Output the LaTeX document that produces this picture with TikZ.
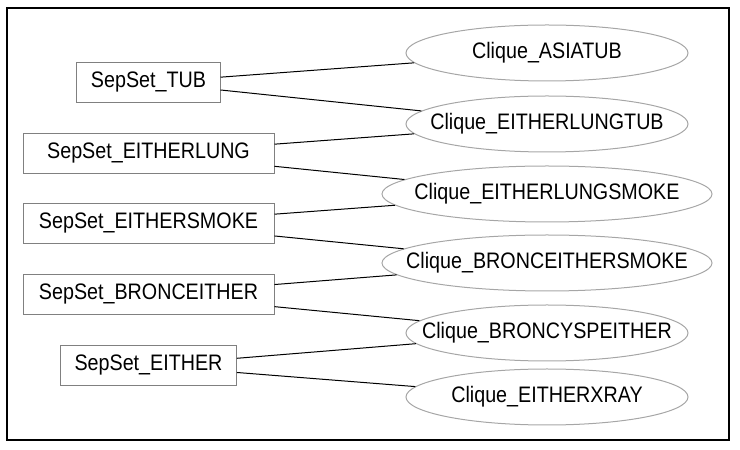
\documentclass[tikz,border=0pt]{standalone}
\usepackage{fontspec}
\setmainfont{Liberation Sans}[FakeStretch=0.88]
\usepackage{tikz}
\usetikzlibrary{arrows}
\usetikzlibrary{shapes.geometric}

\begin{document}
\begin{tikzpicture}[-,x=0.5pt,y=0.5pt,
			sep node/.style={rectangle,draw=black!50,line width=0.5pt,
				font=\fontsize{11.2}{13}\selectfont,inner xsep=7pt,minimum height=20pt},
			wide sep/.style={sep node,minimum width=125.5pt},
			clique node/.style={ellipse,draw=black!35,line width=0.5pt,
				font=\fontsize{11.2}{13}\selectfont,inner xsep=-25pt,inner ysep=0pt,
				minimum width=141pt,minimum height=28pt},
			wide clique/.style={clique node,minimum width=165pt}]
			
			\useasboundingbox (0,0) rectangle (740,450);
			\draw[line width=0.75pt] (7,10) rectangle (729,442);
			
			\node[sep node] (S1) at (148.5,367.5) {SepSet\_TUB};
			\node[wide sep,node distance=35.5pt] (S2) [below of=S1] {SepSet\_EITHERLUNG};
			\node[wide sep,node distance=35pt] (S3) [below of=S2] {SepSet\_EITHERSMOKE};
			\node[wide sep,node distance=35.5pt] (S4) [below of=S3] {SepSet\_BRONCEITHER};
			\node[sep node,node distance=35.5pt] (S5) [below of=S4] {SepSet\_EITHER};
			
			\node[clique node] (C1) at (547,397) {Clique\_ASIATUB};
			\node[clique node,node distance=35.5pt] (C2) [below of=C1] {Clique\_EITHERLUNGTUB};
			\node[wide clique,node distance=35pt] (C3) [below of=C2] {Clique\_EITHERLUNGSMOKE};
			\node[wide clique,node distance=34.5pt] (C4) [below of=C3] {Clique\_BRONCEITHERSMOKE};
			\node[clique node,node distance=35pt] (C5) [below of=C4] {Clique\_BRONCYSPEITHER};
			\node[clique node,node distance=32pt] (C6) [below of=C5] {Clique\_EITHERXRAY};
			
			\path[-,line width=0.5pt]
			(S1) edge (C1)
			(S1) edge (C2)
			(S2) edge (C2)
			(S2) edge (C3)
			(S3) edge (C3)
			(S3) edge (C4)
			(S4) edge (C4)
			(S4) edge (C5)
			(S5) edge (C5)
			(S5) edge (C6);
		\end{tikzpicture}
\end{document}
